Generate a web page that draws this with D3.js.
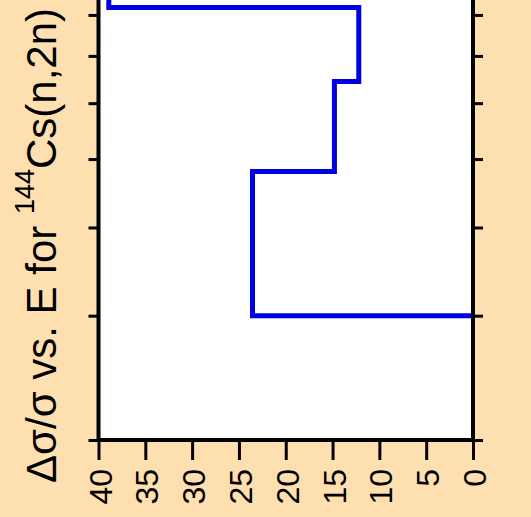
<!DOCTYPE html>
<html>
<head>
<meta charset="utf-8">
<script src="https://cdn.jsdelivr.net/npm/d3@7"></script>
<style>
  html, body { margin: 0; padding: 0; background: #fddfb0; }
  svg { display: block; }
  text { font-family: "Liberation Sans", Arial, sans-serif; }
</style>
</head>
<body>
<svg id="chart" width="531" height="517"></svg>
<script>
// ---- data ----
const energyEdges = [3, 4.8, 6.44, 8.2, 10];          // group boundaries (energy, log axis)
const relUncert   = [23.55, 14.8, 12.2, 38.9];         // Δσ/σ (%) for each group
const valueTicks  = [40, 35, 30, 25, 20, 15, 10, 5, 0];
const energyTicks = [2, 3, 4, 5, 6, 7, 8, 9, 10];
const titleMain   = "Δσ/σ vs. E for ";
const titleSup    = "144";
const titleTail   = "Cs(n,2n)";

// ---- layout ----
const W = 531, H = 517;
const left = 98.5, right = 473, bottom = 440;
const svg = d3.select("#chart");

svg.append("rect").attr("width", W).attr("height", H).attr("fill", "#fddfb0");

const x = d3.scaleLinear().domain([40, 0]).range([left, right]);
const y = d3.scaleLog().domain([2, 10]).range([bottom, bottom - 706 * Math.log10(5)]);

// plot area
svg.append("rect")
  .attr("x", left).attr("y", y(10) - 10)
  .attr("width", right - left).attr("height", bottom - (y(10) - 10))
  .attr("fill", "#ffffff");

// step line
const pts = [[x(0), y(energyEdges[0])]];
relUncert.forEach((v, i) => {
  pts.push([x(v), y(energyEdges[i])]);
  pts.push([x(v), y(energyEdges[i + 1])]);
});
svg.append("path")
  .attr("d", d3.line()(pts))
  .attr("fill", "none")
  .attr("stroke", "#0000e0")
  .attr("stroke-width", 5)
  .attr("stroke-linejoin", "miter");

// energy axes (left and right), ticks only
const leftAxis = d3.axisLeft(y).tickValues(energyTicks).tickSize(10).tickFormat("");
const rightAxis = d3.axisRight(y).tickValues(energyTicks).tickSize(10).tickFormat("");
[[leftAxis, left], [rightAxis, right]].forEach(([ax, px]) => {
  const g = svg.append("g").attr("transform", `translate(${px},0)`).call(ax);
  g.select(".domain").remove();
  g.selectAll(".tick line").attr("stroke", "#000").attr("stroke-width", 3);
});

// value axis (bottom)
const bAxis = d3.axisBottom(x).tickValues(valueTicks).tickSize(20).tickFormat(d3.format("d"));
const gb = svg.append("g").attr("transform", `translate(0,${bottom})`).call(bAxis);
gb.select(".domain").remove();
gb.selectAll(".tick line").attr("stroke", "#000").attr("stroke-width", 3);
gb.selectAll(".tick text")
  .attr("fill", "#000")
  .attr("font-size", 32)
  .attr("text-anchor", "end")
  .attr("dy", null)
  .attr("y", null)
  .attr("transform", "translate(12.5,29) rotate(-90)");

// frame
svg.append("path")
  .attr("d", d3.line()([[left, y(10) - 10], [left, bottom], [right, bottom], [right, y(10) - 10]]))
  .attr("fill", "none")
  .attr("stroke", "#000")
  .attr("stroke-width", 4)
  .attr("stroke-linejoin", "miter");

// title (rotated)
const t = svg.append("text")
  .attr("transform", "translate(56,483) rotate(-90)")
  .attr("font-size", 42)
  .attr("fill", "#000");
t.append("tspan").text(titleMain);
t.append("tspan").attr("font-size", 27).attr("dy", -22).text(titleSup);
t.append("tspan").attr("font-size", 42).attr("dy", 22).text(titleTail);
</script>
</body>
</html>
